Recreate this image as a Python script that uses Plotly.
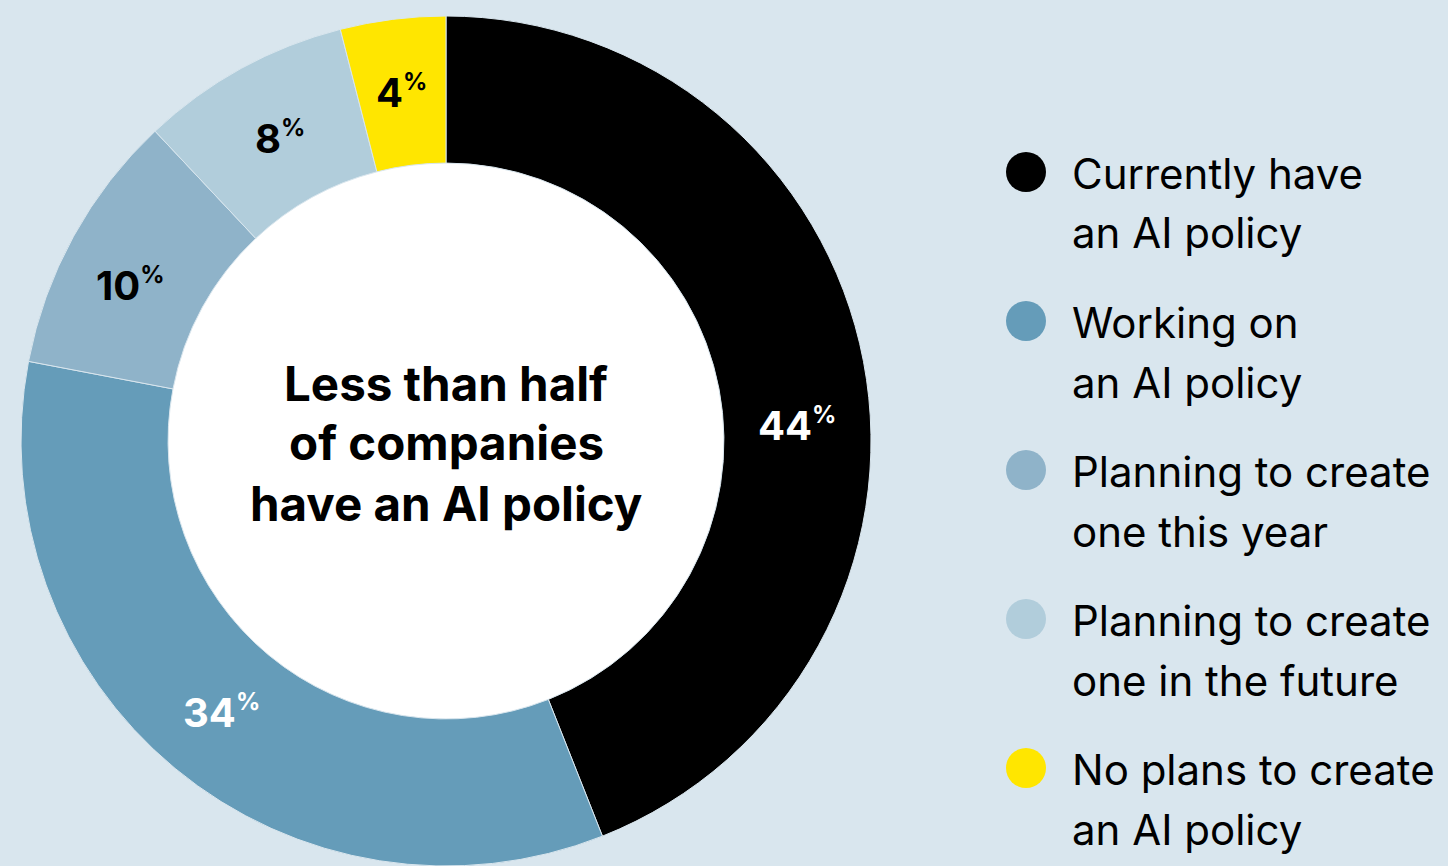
import math
import plotly.graph_objects as go

# Survey shares (percent of companies)
categories = [
    "Currently have<br>an AI policy",
    "Working on<br>an AI policy",
    "Planning to create<br>one this year",
    "Planning to create<br>one in the future",
    "No plans to create<br>an AI policy",
]
shares = [44, 34, 10, 8, 4]
colors = ["#000000", "#659cb9", "#8fb3c9", "#b1cddb", "#ffe600"]
label_colors = ["#ffffff", "#ffffff", "#000000", "#000000", "#000000"]
label_angle_nudge = [8.2, 0, -2.5, 0, 0]   # degrees, to sit labels nicely in the ring
label_radius_nudge = [0, 0, 0, -6, 0]      # pixels
center_title = ["Less than half", "of companies", "have an AI policy"]

W, H = 1448, 866
BG = "#d9e6ee"
CX, CY = 446, 441          # ring centre in pixels (from top-left)
R_OUT, HOLE = 425, 0.654
R_IN = R_OUT * HOLE
FONT = "Inter"


def px(x):
    return x / W


def py(y):
    return 1 - y / H


fig = go.Figure()
fig.add_trace(go.Pie(
    values=shares,
    labels=[c.replace("<br>", " ") for c in categories],
    marker=dict(colors=colors, line=dict(color=BG, width=1)),
    hole=HOLE,
    sort=False,
    direction="clockwise",
    rotation=0,
    textinfo="none",
    hoverinfo="label+percent",
    showlegend=False,
    domain=dict(x=[px(CX - R_OUT), px(CX + R_OUT)], y=[py(CY + R_OUT), py(CY - R_OUT)]),
))

shapes = [dict(
    type="circle", xref="paper", yref="paper", layer="below",
    x0=px(CX - R_IN - 4), x1=px(CX + R_IN + 4),
    y0=py(CY + R_IN + 4), y1=py(CY - R_IN - 4),
    fillcolor="#ffffff", line=dict(width=0),
)]
annotations = []

# Percentage labels inside the ring
total = sum(shares)
start = 0.0
r_mid = (R_IN + R_OUT) / 2
for v, col, da, dr in zip(shares, label_colors, label_angle_nudge, label_radius_nudge):
    sweep = 360 * v / total
    theta = math.radians(start + sweep / 2 + da)
    start += sweep
    r = r_mid + dr
    x = CX + r * math.sin(theta)
    y = CY - r * math.cos(theta)
    annotations.append(dict(
        x=px(x), y=py(y), xref="paper", yref="paper", showarrow=False,
        xanchor="center", yanchor="middle",
        text=f"<b>{v}<sup><span style='font-size:24px'>%</span></sup></b>",
        font=dict(family=FONT, size=40, color=col),
    ))

# Title in the hole
for i, line in enumerate(center_title):
    annotations.append(dict(
        x=px(CX), y=py(383 + 60 * i), xref="paper", yref="paper", showarrow=False,
        xanchor="center", yanchor="middle",
        text=f"<b>{line}</b>",
        font=dict(family=FONT, size=47.5, color="#000000"),
    ))

# Legend: coloured dots with two-line labels
for i, (cat, col) in enumerate(zip(categories, colors)):
    yc = 172 + 149 * i
    shapes.append(dict(
        type="circle", xref="paper", yref="paper",
        x0=px(1006), x1=px(1046), y0=py(yc + 20), y1=py(yc - 20),
        fillcolor=col, line=dict(width=0),
    ))
    for j, line in enumerate(cat.split("<br>")):
        annotations.append(dict(
            x=px(1070), y=py(yc + 1 + 60 * j), xref="paper", yref="paper", showarrow=False,
            xanchor="left", yanchor="middle",
            text=line,
            font=dict(family=FONT, size=42, color="#000000"),
        ))

fig.update_layout(
    width=W, height=H,
    margin=dict(l=0, r=0, t=0, b=0),
    paper_bgcolor=BG, plot_bgcolor=BG,
    shapes=shapes, annotations=annotations,
)

fig.write_html("out.html")
